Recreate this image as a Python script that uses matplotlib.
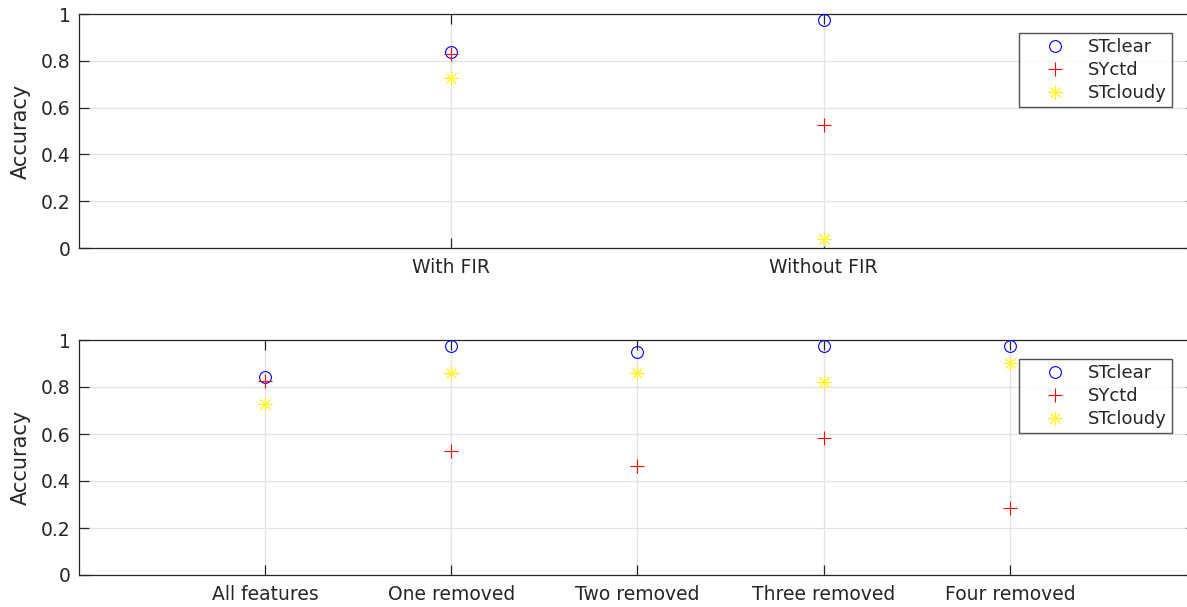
import matplotlib
matplotlib.use("Agg")
import matplotlib.pyplot as plt
import numpy as np

# Data
top_labels = ["With FIR", "Without FIR"]
top_stclear = [0.839, 0.974]
top_syctd = [0.828, 0.526]
top_stcloudy = [0.725, 0.037]

bot_labels = ["All features", "One removed", "Two removed", "Three removed", "Four removed"]
bot_stclear = [0.841, 0.974, 0.950, 0.974, 0.974]
bot_syctd = [0.826, 0.528, 0.465, 0.584, 0.286]
bot_stcloudy = [0.726, 0.861, 0.861, 0.823, 0.901]

series_names = ["STclear", "SYctd", "STcloudy"]

W, H = 1187, 607
fig = plt.figure(figsize=(W / 100, H / 100), dpi=100)
plt.rcParams['font.family'] = ['DejaVu Sans']

txt = "#262626"
gridc = "#e3e3e3"

def make_ax(rect, labels, clear, ctd, cloudy, leg_anchor):
    ax = fig.add_axes(rect)
    x = np.arange(1, len(labels) + 1)
    ax.plot(x, clear, linestyle="none", marker="o", markersize=8.5, markerfacecolor="none",
            markeredgecolor="blue", markeredgewidth=0.8, label=series_names[0], zorder=3)
    ax.plot(x, ctd, linestyle="none", marker="+", markersize=10, color="red",
            markeredgewidth=0.8, label=series_names[1], zorder=3)
    ax.plot(x, cloudy, linestyle="none", marker=(8, 2, 0), markersize=10, color="yellow",
            markeredgewidth=0.6, label=series_names[2], zorder=3)
    ax.set_xlim(0, len(labels) + 1)
    ax.set_ylim(0, 1)
    ax.set_xticks(x)
    ax.set_xticklabels(labels)
    ax.set_yticks([0, 0.2, 0.4, 0.6, 0.8, 1])
    ax.set_yticklabels(["0", "0.2", "0.4", "0.6", "0.8", "1"])
    ax.grid(True, color=gridc, linewidth=0.9, zorder=0)
    ax.set_axisbelow(True)
    ax.tick_params(direction="in", length=7, width=0.9, colors=txt, labelsize=13.5,
                   top=True, right=True, pad=6)
    ax.tick_params(axis="x", pad=7)
    for s in ax.spines.values():
        s.set_color(txt)
        s.set_linewidth(0.9)
    ax.set_ylabel("Accuracy", fontsize=15, color=txt, labelpad=7)
    leg = ax.legend(loc="upper left", bbox_to_anchor=leg_anchor, bbox_transform=fig.transFigure,
                    fontsize=13, frameon=True, fancybox=False, edgecolor="#262626",
                    borderpad=0.28, labelspacing=0.28, handletextpad=0.15, handlelength=3.4,
                    borderaxespad=0)
    leg.get_frame().set_linewidth(1.0)
    for t in leg.get_texts():
        t.set_color(txt)
    return ax

left = 79 / W
width = (1196 - 79) / W
make_ax([left, 1 - 248 / H, width, 234 / H], top_labels, top_stclear, top_syctd, top_stcloudy,
        (1019 / W, 1 - 33 / H))
make_ax([left, 1 - 575 / H, width, 235 / H], bot_labels, bot_stclear, bot_syctd, bot_stcloudy,
        (1019 / W, 1 - 359 / H))

fig.savefig("out.png", dpi=100)
